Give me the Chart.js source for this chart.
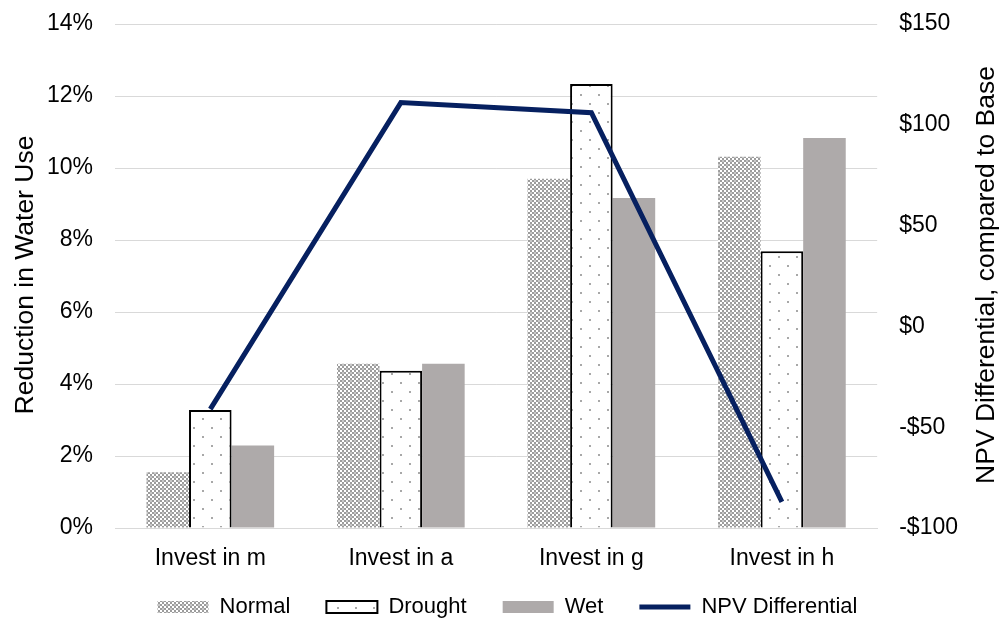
<!DOCTYPE html>
<html>
<head>
<meta charset="utf-8">
<script src="https://cdn.jsdelivr.net/npm/chart.js@4.4.1/dist/chart.umd.min.js"></script>
<style>
  html, body { margin: 0; padding: 0; background: #fff; }
  #wrap { width: 1001px; height: 624px; position: relative; }
</style>
</head>
<body>
<div id="wrap"><canvas id="c"></canvas></div>
<script>
// ---- Data ----
const categories = ['Invest in m', 'Invest in a', 'Invest in g', 'Invest in h'];
const normalValues = [1.55, 4.56, 9.7, 10.31];
const droughtValues = [3.28, 4.37, 12.33, 7.69];
const wetValues = [2.29, 4.56, 9.17, 10.83];
const npvValues = [-41, 111, 106, -87];
const leftTicks = [0, 2, 4, 6, 8, 10, 12, 14];
const rightTicks = [-100, -50, 0, 50, 100, 150];
const seriesNames = ['Normal', 'Drought', 'Wet', 'NPV Differential'];
const leftTitle = 'Reduction in Water Use';
const rightTitle = 'NPV Differential, compared to Base';

const FONT = "'Liberation Sans', Arial, sans-serif";

// ---- Patterns ----
function makeNormalPattern() {
  const c = document.createElement('canvas');
  c.width = 8; c.height = 8;
  const g = c.getContext('2d');
  g.fillStyle = '#ffffff';
  g.fillRect(0, 0, 8, 8);
  g.fillStyle = '#9c9c9c';
  for (let y = 0; y < 8; y += 2) {
    for (let x = 0; x < 8; x += 2) {
      if (((x + y) / 2) % 2 === 0) g.fillRect(x, y, 2, 2);
    }
  }
  g.fillStyle = '#c8c8c8';
  g.fillRect(2, 0, 2, 2);
  g.fillRect(6, 4, 2, 2);
  return g.createPattern(c, 'repeat');
}
function makeDroughtPattern() {
  const c = document.createElement('canvas');
  c.width = 18; c.height = 18;
  const g = c.getContext('2d');
  g.fillStyle = '#ffffff';
  g.fillRect(0, 0, 18, 18);
  g.fillStyle = '#a8a8a8';
  g.fillRect(4, 4, 2, 2);
  g.fillRect(13, 13, 2, 2);
  return g.createPattern(c, 'repeat');
}
const normalFill = makeNormalPattern();
const droughtFill = makeDroughtPattern();
const wetFill = '#aeaaaa';
const lineColor = '#062060';

function noVerticalPad(scale) {
  scale.paddingTop = 0;
  scale.paddingBottom = 0;
}

// ---- Titles plugin (both read bottom-to-top) + legend shift ----
const titlesPlugin = {
  id: 'axisTitles',
  afterLayout(chart) {
    if (chart.legend) {
      chart.legend.top -= 15;
      chart.legend.height += 15;
    }
  },
  afterDraw(chart) {
    const ctx = chart.ctx;
    const area = chart.chartArea;
    const cy = (area.top + area.bottom) / 2 - 1;
    ctx.save();
    ctx.font = '26.5px ' + FONT;
    ctx.fillStyle = '#000';
    ctx.textAlign = 'center';
    ctx.textBaseline = 'alphabetic';
    ctx.save();
    ctx.translate(33, cy);
    ctx.rotate(-Math.PI / 2);
    ctx.fillText(leftTitle, 0, 0);
    ctx.restore();
    ctx.save();
    ctx.translate(994, cy);
    ctx.rotate(-Math.PI / 2);
    ctx.fillText(rightTitle, 0, 0);
    ctx.restore();
    ctx.restore();
  }
};

const fills = [normalFill, droughtFill, wetFill];

new Chart(document.getElementById('c'), {
  data: {
    labels: categories,
    datasets: [
      { type: 'bar', label: seriesNames[0], data: normalValues, yAxisID: 'y', backgroundColor: normalFill, borderWidth: 0, order: 2,
        categoryPercentage: 0.67, barPercentage: 1.0 },
      { type: 'bar', label: seriesNames[1], data: droughtValues, yAxisID: 'y', backgroundColor: droughtFill, borderColor: '#000', borderWidth: 2, order: 2,
        categoryPercentage: 0.67, barPercentage: 1.0 },
      { type: 'bar', label: seriesNames[2], data: wetValues, yAxisID: 'y', backgroundColor: wetFill, borderWidth: 0, order: 2,
        categoryPercentage: 0.67, barPercentage: 1.0 },
      { type: 'line', label: seriesNames[3], data: npvValues, yAxisID: 'y1', borderColor: lineColor, backgroundColor: lineColor,
        borderWidth: 5, pointRadius: 0, tension: 0, order: 1, borderJoinStyle: 'miter' }
    ]
  },
  options: {
    responsive: true,
    maintainAspectRatio: false,
    animation: false,
    layout: { padding: { left: 14, right: 0, top: 24, bottom: 4 } },
    scales: {
      x: {
        grid: { display: false, drawTicks: false },
        border: { display: true, color: '#d9d9d9', width: 1 },
        ticks: { color: '#000', font: { family: FONT, size: 23 }, padding: 17 },
        afterFit(scale) { scale.height = 47; }
      },
      y: {
        position: 'left',
        min: 0, max: 14,
        afterBuildTicks(scale) { scale.ticks = leftTicks.map(v => ({ value: v })); },
        grid: { color: '#d9d9d9', lineWidth: 1, drawTicks: false },
        border: { display: false },
        ticks: { color: '#000', font: { family: FONT, size: 23 }, padding: 22, callback: v => v + '%' },
        afterFit(scale) { scale.width += 11; noVerticalPad(scale); }
      },
      y1: {
        position: 'right',
        min: -100, max: 150,
        afterBuildTicks(scale) { scale.ticks = rightTicks.map(v => ({ value: v })); },
        grid: { display: false, drawTicks: false },
        border: { display: false },
        ticks: { color: '#000', font: { family: FONT, size: 23 }, padding: 22,
          callback: v => (v < 0 ? '-$' + Math.abs(v) : '$' + v) },
        afterFit(scale) { scale.width += 21; noVerticalPad(scale); }
      }
    },
    plugins: {
      tooltip: { enabled: false },
      legend: {
        position: 'bottom',
        maxHeight: 45,
        labels: {
          color: '#000',
          font: { family: FONT, size: 22 },
          usePointStyle: true,
          pointStyleWidth: 51,
          boxHeight: 12,
          padding: 36,
          generateLabels(chart) {
            return chart.data.datasets.map((ds, i) => ({
              text: ds.label,
              fillStyle: ds.type === 'line' ? lineColor : fills[i],
              strokeStyle: ds.type === 'line' ? lineColor : (ds.borderColor || 'rgba(0,0,0,0)'),
              lineWidth: ds.type === 'line' ? 5 : (ds.borderWidth || 0),
              pointStyle: ds.type === 'line' ? 'line' : 'rect',
              fontColor: '#000',
              hidden: false,
              datasetIndex: i
            }));
          }
        }
      }
    }
  },
  plugins: [titlesPlugin]
});
</script>
</body>
</html>
